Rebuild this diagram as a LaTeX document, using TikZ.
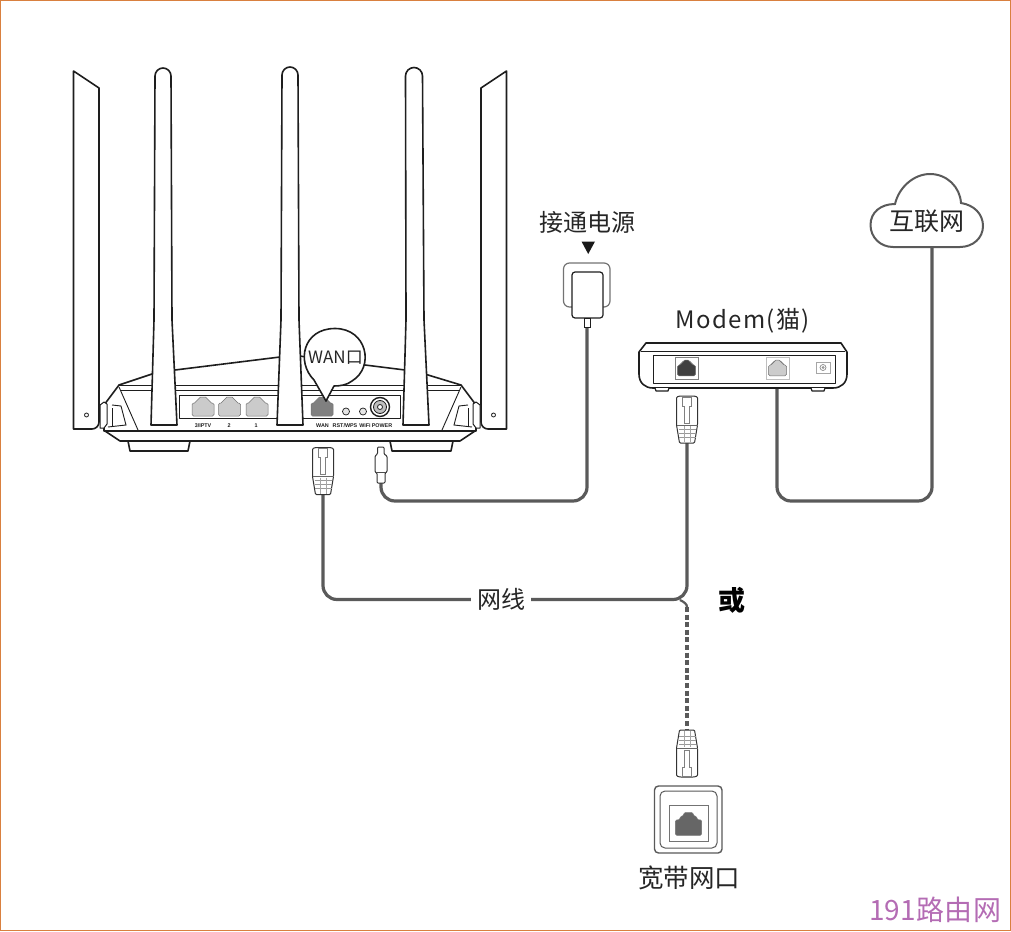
\documentclass[tikz,border=0pt]{standalone}
\usepackage{fontspec}
\newfontfamily\cjk{Noto Sans CJK SC}
\newfontfamily\lab{Liberation Sans}
\definecolor{cablec}{HTML}{5A5A5A}
\definecolor{edgec}{HTML}{1E1E1E}
\definecolor{portc}{HTML}{B4B4B4}
\definecolor{frame}{HTML}{D9803F}
\definecolor{mark}{HTML}{B46CB4}
\tikzset{
 x=1pt,y=-1pt,
 outl/.style={draw=edgec,line width=1.6pt,fill=white,line join=round},
 thin outl/.style={draw=edgec,line width=1pt,fill=white,line join=round},
 cable/.style={draw=cablec,line width=3.2pt,rounded corners=14pt},
 txt/.style={font=\cjk,text=black!85,inner sep=0pt},
 tiny lab/.style={font=\lab\bfseries\fontsize{5.4}{6}\selectfont,text=edgec,inner sep=0pt},
 pics/rjport/.style={code={
   \path[fill=#1,draw=black!55,line width=.5pt,rounded corners=1.5pt]
     (-11,9.5)--(-11,-3.5)--(-7,-3.5)--(-7,-6.5)--(-4,-6.5)--(-4,-9.5)--(4,-9.5)--(4,-6.5)--(7,-6.5)--(7,-3.5)--(11,-3.5)--(11,9.5)--cycle;
 }},
 pics/plug/.style={code={
   \path[draw=black!80,line width=1pt,fill=white,rounded corners=1pt]
     (-10.5,1)--(-7,0)--(7,0)--(10.5,1)--(10.5,29)--(7.5,47)--(-7.5,47)--(-10.5,29)--cycle;
   \draw[black!60,line width=.6pt] (-10.5,29)--(10.5,29);
   \draw[black!50,line width=.6pt] (-4.5,1)--(-4.5,10)--(-2.5,10)--(-2.5,27)--(2.5,27)--(2.5,10)--(4.5,10)--(4.5,1)--cycle;
   \foreach \yy in {33,37,41}{\draw[black!40,line width=.8pt] (-8.5,\yy)--(8.5,\yy);}
   \foreach \xx in {-3,3}{\draw[black!35,line width=.5pt] (\xx,30)--(\xx,46);}
 }},
}
\begin{document}
\begin{tikzpicture}
\useasboundingbox (0,0) rectangle (1011,931);
\draw[frame,line width=1.2pt] (0.6,0.6) rectangle (1010.4,930.4);

% ---------- connector anchors
\coordinate (wanend) at (323,494);
\coordinate (modemplugend) at (687,443);
\coordinate (wallplugend) at (687,730);
\coordinate (barrelend) at (381,483);
\coordinate (stemend) at (587,326);
\coordinate (powercorner) at (587,501);
\coordinate (lanport) at (777,379);
\coordinate (cloudbase) at (932,246);
\coordinate (lancorner) at (932,501);
\coordinate (forktip) at (680,600);
\coordinate (dashstart) at (687,607);

% ---------- cables
\node[txt,font=\cjk\fontsize{24}{24}\selectfont,minimum width=60pt,minimum height=24pt] (netlabel) at (501,599.5) {网线};
\draw[cable] (wanend) |- (netlabel.west);
\draw[cable] (netlabel.east) -| (modemplugend);
\draw[cablec,line width=2.2pt] (forktip) .. controls (684,602) and (687,604) .. (dashstart);
\draw[draw=cablec,line width=3.2pt,dash pattern=on 5pt off 2.6pt] (dashstart) -- (wallplugend);
\draw[cable] (barrelend) |- (powercorner) -- (stemend);
\draw[cable] (lanport) |- (lancorner) -- (cloudbase);

% ---------- router body
\path[outl] (104,405)--(119,385)--(152,374)--(175,370)--(280,357)--(292,355)--(365,365)--(405,370)--(428,375)--(461,385)--(476,405)--(476,431)--(104,431)--cycle;
\draw[edgec,line width=1pt] (119,385)--(461,385);
\draw[edgec,line width=1pt] (121,390)--(459,390);
\path[outl] (128,441)--(130,451)--(188,451)--(190,441)--cycle;
\path[outl] (390,441)--(392,451)--(451,451)--(453,441)--cycle;
\path[outl] (105,431)--(475,431)--(460,441)--(120,441)--cycle;
\foreach \sh/\sc in {0/1,580/-1}{
 \begin{scope}[shift={(\sh,0)},xscale=\sc]
  \draw[edgec,line width=.9pt] (119,387)--(138,430);
  \draw[edgec,line width=.9pt] (112,405)--(121,406)--(126,425)--(108,427);
  \draw[edgec,line width=.9pt] (112,408)--(112,426);
  \path[outl] (73.5,71)--(99,88)--(99,422) arc[start angle=0,end angle=90,radius=7]--(73.5,429)--cycle;
  \path[thin outl] (100,405)--(104,402)--(107,404)--(107,424)--(104,428)--(100,428)--cycle;
  \draw[edgec,line width=.8pt] (86.5,415) circle[radius=2];
 \end{scope}
}
% panel
\path[thin outl] (179,395) rectangle (400,418);
\pic at (203,406.5) {rjport=portc!70!white};
\pic at (229.5,406.5) {rjport=portc!70!white};
\pic at (257,406.5) {rjport=portc!70!white};
\pic at (322,406.5) {rjport=black!50};
\draw[edgec,line width=.7pt,fill=white!90!black] (346,411.5) circle[radius=3.5];
\draw[edgec,line width=.7pt,fill=white!90!black] (363,411.5) circle[radius=3.5];
\draw[edgec,line width=1.4pt,fill=white] (380,407) circle[radius=9.5];
\draw[edgec,line width=.8pt,fill=black!25] (380,407) circle[radius=6.5];
\draw[edgec,line width=.8pt,fill=white] (380,407) circle[radius=2.5];
\node[tiny lab] (l1) at (203,425.5) {3/IPTV};
\node[tiny lab] (l2) at (229,425.5) {2};
\node[tiny lab] (l3) at (256,425.5) {1};
\node[tiny lab] (l4) at (322.5,425.5) {WAN};
\node[tiny lab] (l5) at (345,425.5) {RST/WPS};
\node[tiny lab] (l6) at (365,425.5) {WiFi};
\node[tiny lab] (l7) at (382,425.5) {POWER};

% ---------- centre antennas
\path[outl] (151,425)--(154,320)--(155,76) arc[start angle=180,end angle=360,radius=8]--(172,320)--(177,425)--cycle;
\path[outl] (277,425)--(281,320)--(282,75) arc[start angle=180,end angle=360,radius=8]--(299,320)--(303,425)--cycle;
\path[outl] (403,425)--(406,320)--(405.5,76) arc[start angle=180,end angle=360,radius=8.5]--(424,320)--(429,425)--cycle;

% ---------- WAN bubble
\path[outl] (314,380) .. controls (296,362) and (303,328.5) .. (335,328.5) .. controls (367,328.5) and (375,367) .. (352,381) .. controls (347,385) and (340,386) .. (334,386) -- (326,401) -- cycle;
\node[txt,font=\cjk\fontsize{17}{17}\selectfont] (wantext) at (335.5,358) {WAN口};

% ---------- plugs
\pic at (323,447.5) {plug};
\pic at (687,396) {plug};
\pic[rotate=180] at (687,777) {plug};

% ---------- barrel plug
\path[draw=black!80,line width=1pt,fill=white,rounded corners=1pt]
  (377.5,454)--(377.5,447)--(384,447)--(384,454)--(387,456)--(387,472)--(385,473)--(385,483)--(377,483)--(377,473)--(375,472)--(375,456)--cycle;
\draw[black!70,line width=.8pt] (375,472)--(387,472);

% ---------- adapter
\path[draw=black!55,line width=1.2pt,fill=white,rounded corners=6pt] (563.5,263) rectangle (610,307);
\path[draw=edgec,line width=1.2pt,fill=white,rounded corners=3pt] (572,272) rectangle (603,318);
\path[draw=edgec,line width=1pt,fill=white] (584.5,318) rectangle (590,327);
\node[txt,font=\cjk\fontsize{24}{24}\selectfont] (powertext) at (587.5,222.5) {接通电源};
\path[fill=black!90] (581.5,241.5)--(595,241.5)--(588.2,254)--cycle;

% ---------- modem
\node[txt,font=\cjk\fontsize{24}{24}\selectfont,text=black!85] (modemtext) at (742.5,321) {\addfontfeatures{LetterSpace=6}Modem(猫)};
\path[outl] (646,343)--(841,343)--(847,352)--(847,374) .. controls (847,383) and (841,388) .. (833,388)--(653,388) .. controls (645,388) and (639,383) .. (639,374)--(639,352)--cycle;
\draw[edgec,line width=1pt] (641,351)--(845,351);
\path[outl,line width=1.2pt] (655,388)--(656,391)--(668,391)--(669,388);
\path[outl,line width=1.2pt] (811,388)--(812,391)--(824,391)--(825,388);
\path[thin outl] (653,355) rectangle (835,383);
\draw[black!50,line width=.7pt] (675,357) rectangle (698,379);
\pic[scale=.82] at (686.5,368) {rjport=black!75};
\draw[black!25,line width=.7pt] (766,357) rectangle (789,379);
\pic[scale=.82] at (777.5,368) {rjport=black!20};
\draw[black!35,line width=.7pt] (816,362) rectangle (830,373);
\draw[black!45,line width=.7pt] (823,367.5) circle[radius=3];
\draw[black!45,line width=.7pt] (823,367.5) circle[radius=1];

% ---------- cloud
\path[draw=cablec,line width=2pt,fill=white] (893,247)
  .. controls (880,247) and (870.5,237) .. (870.5,225)
  .. controls (870.5,212) and (881,204) .. (895,204)
  .. controls (899,187) and (914,174) .. (930,174)
  .. controls (947,174) and (960,187) .. (961,203)
  .. controls (974,205) and (983,214) .. (983,226)
  .. controls (983,238) and (973,247) .. (960,247)
  -- cycle;
\node[txt,font=\cjk\fontsize{25}{25}\selectfont] (cloudtext) at (927,221.5) {互联网};

% ---------- or label
\node[txt,font=\cjk\bfseries\fontsize{27}{27}\selectfont,text=black] (ortext) at (732,600) {或};

% ---------- wall plate
\path[draw=black!65,line width=1.4pt,fill=white,rounded corners=4pt] (654.5,786) rectangle (722,853);
\path[draw=black!65,line width=1pt,fill=white,rounded corners=5pt] (660,791) rectangle (717,848);
\path[draw=black!55,line width=.7pt,fill=white] (669,805) rectangle (708,841);
\pic[scale=1.2] at (688.5,824) {rjport=black!60};
\node[txt,font=\cjk\fontsize{25.5}{25.5}\selectfont] (walltext) at (689,878) {宽带网口};

% ---------- watermark
\node[font=\cjk\fontsize{28}{28}\selectfont,text=mark,inner sep=0pt] (wm) at (935,910) {\addfontfeatures{LetterSpace=1}191路由网};
\end{tikzpicture}
\end{document}
